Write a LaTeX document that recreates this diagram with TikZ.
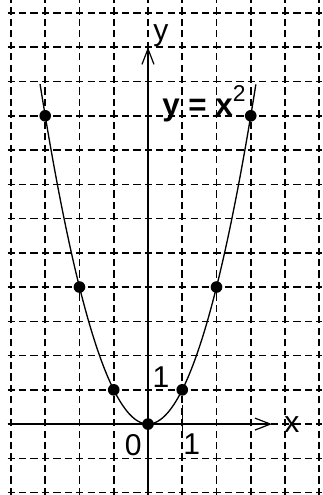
\documentclass[tikz,border=0pt]{standalone}
\usepackage{fontspec}
\setmainfont{Liberation Sans}
\usetikzlibrary{arrows.meta,positioning}

\begin{document}
\begin{tikzpicture}[every node/.style={font=\fontsize{25}{30}\selectfont},
  gridline/.style={line width=1.3pt,dash pattern=on 6pt off 3.5pt},
  axisline/.style={line width=1pt,-{Straight Barb[length=4.5mm,width=3.5mm,line width=1pt]}},
  ptdot/.style={circle,fill,inner sep=0pt,minimum size=3.4mm}]
\useasboundingbox (-4.32,-2.07) rectangle (5.08,12.38);
% grid
\foreach \gx in {-4,...,5} \draw[gridline] (\gx,-2.07)--(\gx,12.38);
\foreach \gy in {-2,...,12} \draw[gridline] (-4.1,\gy)--(5.08,\gy);
% axes
\coordinate (xs) at (-4.1,0);
\coordinate (xe) at (3.62,0);
\coordinate (ys) at (0,-2.07);
\coordinate (ye) at (0,11.0);
\draw[axisline] (xs)--(xe);
\draw[axisline] (ys)--(ye);
\node (xlab) at (4.2,0) {x};
\node (ylab) at (0.38,11.35) {y};
% ticks
\coordinate (t1a) at (1,0.55);
\coordinate (t1b) at (1,-0.25);
\draw[line width=1pt] (t1a)--(t1b);
\node (lzero) at (-0.43,-0.6) {0};
\node (lxone) at (1.28,-0.6) {1};
\node[anchor=south,inner sep=0pt] (lyone) at (0.38,1.05) {1};
% parabola
\draw[line width=1.1pt,domain=-3.15:3.15,samples=120,smooth] plot (\x,{\x*\x});
\node[ptdot] (p0) at (0,0) {};
\node[ptdot] (p1) at (1,1) {};
\node[ptdot] (m1) at (-1,1) {};
\node[ptdot] (p2) at (2,4) {};
\node[ptdot] (m2) at (-2,4) {};
\node[ptdot] (p3) at (3,9) {};
\node[ptdot] (m3) at (-3,9) {};
\node[anchor=base west,inner sep=0pt,font=\fontsize{26}{30}\selectfont\bfseries] (fn) at (0.41,9.0)
  {y = x\raisebox{0.45em}{\fontsize{19}{22}\selectfont\mdseries 2}};
\end{tikzpicture}
\end{document}
